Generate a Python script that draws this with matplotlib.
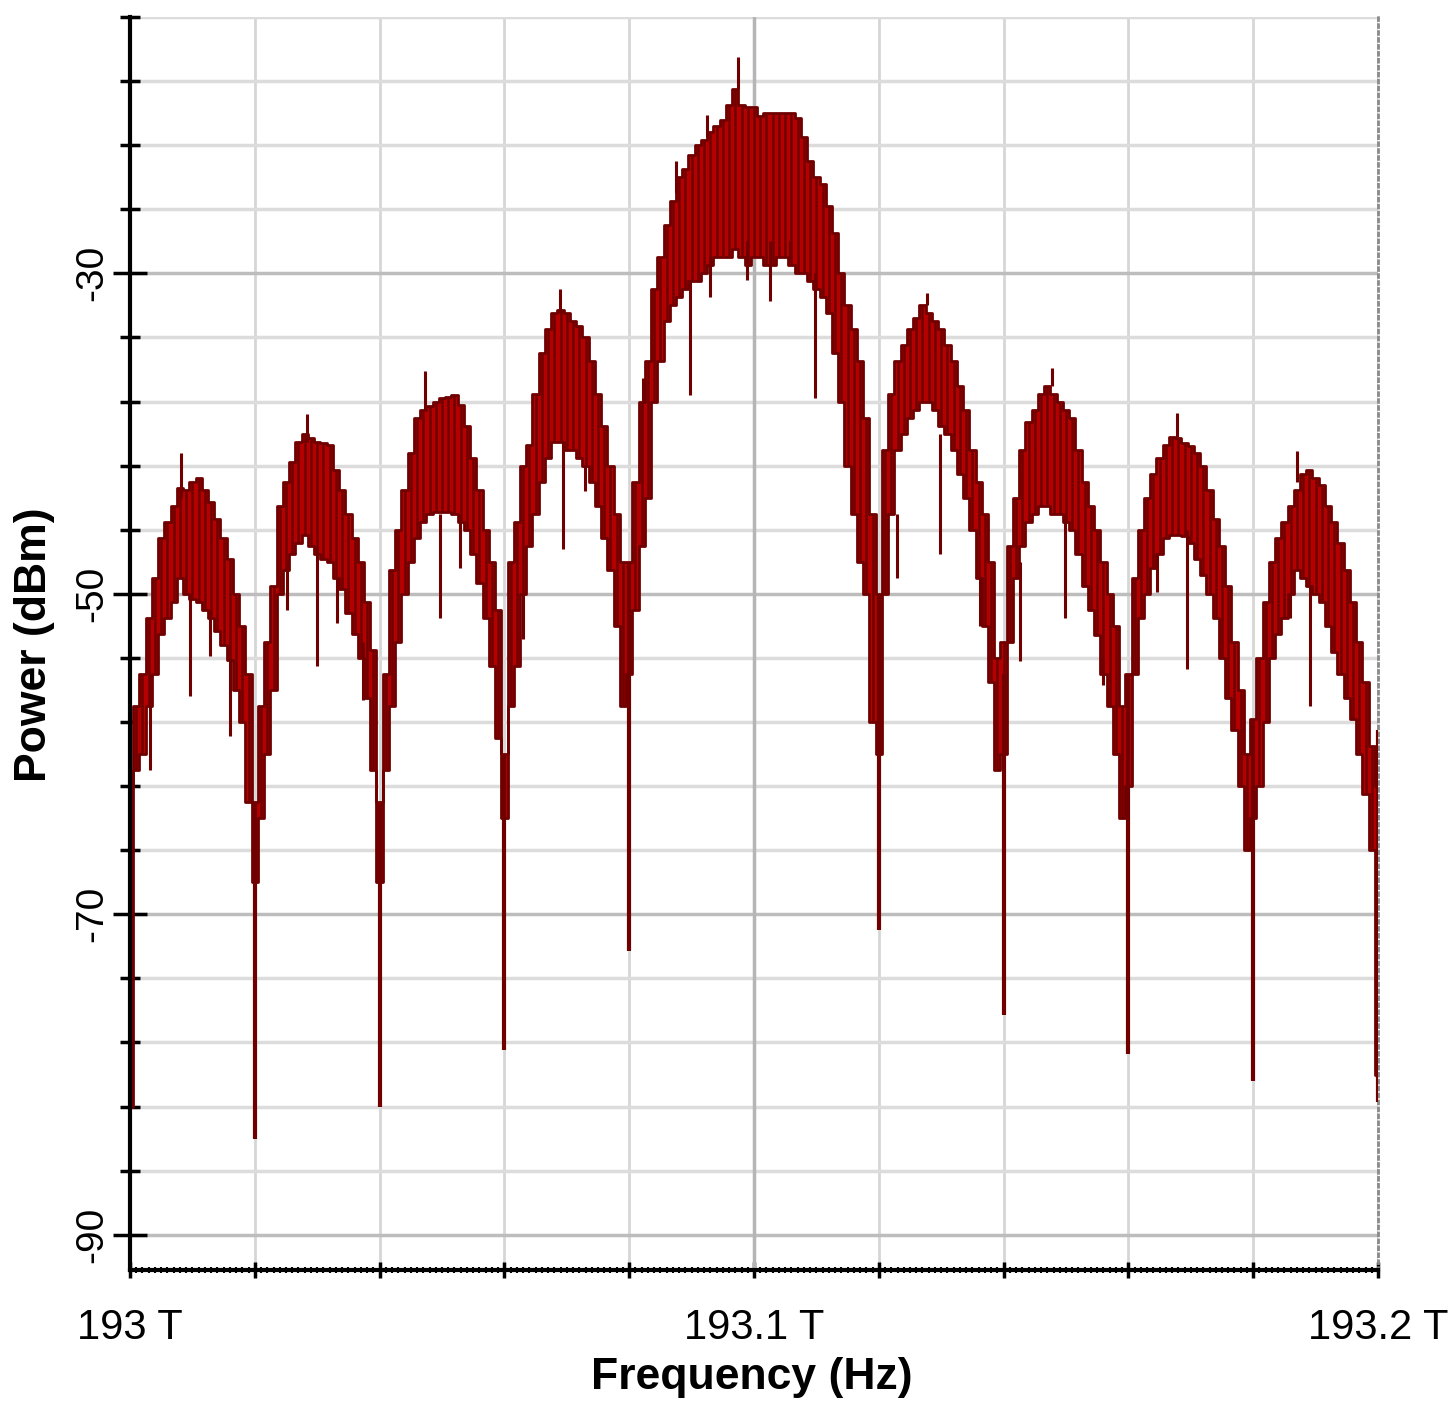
import numpy as np
import matplotlib
matplotlib.use("Agg")
from matplotlib import pyplot as plt
from matplotlib.ticker import FixedLocator, FuncFormatter

plt.rcParams['font.family'] = ['Liberation Sans', 'DejaVu Sans']
plt.rcParams['axes.unicode_minus'] = False

# spectrum samples every 1 GHz (upper / lower edge of the noisy trace, dBm)
freq = np.arange(201) * 0.001 + 193.0

hi = [-62, -57, -55, -51.5, -49, -46.5, -45.5, -44.5, -43.4, -43.5,
      -43, -42.8, -43.5, -44.3, -45.3, -46.5, -47.8, -50, -52, -55,
      -63, -57, -53, -49.5, -44.5, -43, -41.8, -40.5, -40, -40.3,
      -40.5, -40.6, -40.7, -42.3, -43.5, -45, -46.5, -48, -50.5, -53.5,
      -63, -55, -48.5, -46, -43.5, -41.2, -39, -38.5, -38.3, -38,
      -37.8, -37.7, -37.6, -38.2, -39.5, -41.5, -43.5, -46, -48, -51,
      -60, -48, -45.5, -42, -40.7, -37.5, -35, -33.5, -32.5, -32.3,
      -32.5, -33, -33.3, -34, -35.5, -37.5, -39.5, -42, -45, -48,
      -48, -43, -38, -35.5, -31, -29, -27, -25.5, -24, -23.5,
      -22.6, -22, -21.7, -21.2, -20.8, -20.4, -19.5, -18.5, -19.5, -19.6,
      -19.6, -20.2, -20, -20, -20, -20, -20, -20.3, -21.5, -23,
      -24, -24.4, -25.8, -27.5, -30, -32, -33.5, -35.5, -39, -45,
      -50, -41, -37.5, -35.5, -34.5, -33.5, -32.8, -32, -32.5, -33,
      -33.5, -34.5, -35.5, -37, -38.5, -41, -43, -45, -48, -54,
      -53, -47, -44, -41, -39.3, -38.5, -37.5, -37, -37.5, -38,
      -38.5, -39, -41, -43, -44.5, -46, -48, -50, -52, -57,
      -55, -49, -46, -44, -42.5, -41.5, -40.7, -40.2, -40.3, -40.6,
      -40.8, -41.2, -42, -43.5, -45.3, -47, -49.5, -53, -56, -60,
      -57.8, -54, -50.5, -48, -46.5, -45.5, -44.5, -43.5, -42.5, -42.3,
      -42.8, -43.2, -44.5, -45.5, -46.8, -48.5, -50.5, -53, -55.5, -59.5,
      -62]

lo = [-82, -61, -60, -57, -55, -52.5, -51.5, -50.5, -49, -50,
      -50.3, -50.5, -51, -51.5, -52.3, -53.2, -54.1, -56, -58, -63,
      -68, -64, -60, -56, -50, -48.5, -47.5, -46.8, -46.3, -47,
      -47.5, -47.8, -48, -49, -49.7, -51.2, -52.5, -54, -56.5, -61,
      -68, -61, -57, -53, -50, -48, -46.5, -45.5, -45, -44.9,
      -44.9, -44.9, -45, -45.5, -46, -47.5, -49.3, -51.5, -54.5, -59,
      -64, -57, -54.5, -50, -47, -45, -43, -41.5, -40.5, -40.5,
      -41, -41, -41.5, -42, -43, -44.5, -46.5, -48.5, -52, -57,
      -55, -51, -47, -44, -38, -35.5, -33, -32, -31.5, -31,
      -30.5, -30.5, -30, -29.5, -29, -29, -29, -28.5, -29, -29.5,
      -29, -29, -29.5, -29.5, -29, -29, -29.5, -30, -30, -30.5,
      -31, -31.5, -32.5, -35, -38, -42, -45, -48, -50, -58,
      -60, -50, -45, -41, -40, -39, -38.5, -38, -38, -38.5,
      -39.5, -40, -41, -42.5, -44, -46, -49, -52, -55.5, -61,
      -60, -53, -49, -47, -45.5, -45, -44.5, -44.5, -45, -45,
      -45.5, -46, -47.5, -49.5, -51, -52.6, -55, -57, -60, -64,
      -62, -55, -51.5, -50, -48.4, -47.5, -46.5, -46.3, -46.3, -46.4,
      -46.8, -47.8, -48.8, -50, -51.5, -54, -56.5, -58.5, -62, -66,
      -64, -62, -58, -54, -52.5, -51.5, -50, -48.5, -49, -49.5,
      -50, -50.5, -52, -53.6, -55, -56.5, -57.8, -60, -62.5, -66,
      -80]

# deep notches between the lobes: frequency, top, bottom
dip_f = [193.0, 193.02, 193.04, 193.06, 193.08, 193.12, 193.14, 193.16, 193.18, 193.2]
dip_top = [-62, -63, -63, -60, -48, -50, -55, -55, -58, -58.5]
dip_bot = [-82, -84, -82, -78.5, -72.3, -71, -76.3, -78.7, -80.4, -81.7]

# single downward spikes below the trace
down_f = [193.0032, 193.0096, 193.0128, 193.016, 193.0252, 193.03, 193.0332, 193.0373,
          193.0497, 193.0529, 193.063, 193.0694, 193.0729, 193.0897, 193.0929, 193.0989,
          193.1026, 193.1058, 193.1098, 193.1229, 193.1298, 193.1362, 193.1426, 193.1498,
          193.1559, 193.1646, 193.1694, 193.1859, 193.1891]
down_top = [-55, -50, -51, -54, -48, -47, -49, -53, -45, -45, -50, -40.5, -42, -30.5, -29,
            -28, -28, -28, -30, -45, -40, -49, -48, -45, -54, -47.5, -46, -50, -49.5]
down_bot = [-61, -56.4, -53.9, -58.9, -51, -54.5, -51.8, -56.6, -51.5, -48.4, -52.8, -47.2,
            -43.6, -37.6, -31.5, -30.4, -31.7, -29.2, -37.8, -49, -47.5, -52, -54.2, -51.5,
            -55.7, -49.9, -54.7, -51.5, -57]

# single upward spikes above the trace
up_f = [193.0082, 193.0284, 193.0473, 193.0689, 193.0822, 193.0875, 193.0925, 193.0974,
        193.1277, 193.1478, 193.1678, 193.187]
up_base = [-44, -40.5, -38.5, -32.5, -38, -25, -21.5, -18.5, -32, -37, -40.2, -43]
up_top = [-41.2, -38.8, -36.1, -31, -36.5, -23, -20.1, -16.5, -31.2, -35.9, -38.7, -41.1]

x_labels = {193.0: "193 T", 193.1: "193.1 T", 193.2: "193.2 T"}
y_major = [-90, -70, -50, -30]

fill_col = "#b40000"
dark_col = "#700000"

fig = plt.figure(figsize=(14.48, 14.03), dpi=100)
ax = fig.add_axes([130 / 1448, 1 - 1270 / 1403, 1248 / 1448, 1253 / 1403])

# blocky, stepped trace like the simulator's bar-style spectrum
ax.fill_between(freq, lo, hi, step="mid", color=fill_col, lw=0, zorder=3)
ax.plot(freq, hi, drawstyle="steps-mid", color=dark_col, lw=2, zorder=4)
ax.plot(freq, lo, drawstyle="steps-mid", color=dark_col, lw=2, zorder=4)
ax.vlines(freq, lo, hi, color=dark_col, lw=1.8, zorder=4)
ax.vlines(dip_f, dip_bot, dip_top, color=dark_col, lw=3, zorder=4)
ax.vlines(down_f, down_bot, down_top, color=dark_col, lw=2.2, zorder=4)
ax.vlines(up_f, up_base, up_top, color=dark_col, lw=2.2, zorder=4)

ax.set_xlim(193.0, 193.2)
ax.set_ylim(-92.2, -14)

ax.xaxis.set_major_locator(FixedLocator(np.round(np.arange(11) * 0.02 + 193.0, 3)))
ax.xaxis.set_minor_locator(FixedLocator(np.arange(201) * 0.001 + 193.0))
ax.xaxis.set_major_formatter(FuncFormatter(lambda v, p: x_labels.get(round(v, 3), "")))
ax.yaxis.set_major_locator(FixedLocator(y_major))
ax.yaxis.set_minor_locator(FixedLocator(np.arange(-90, -13, 4)))
ax.yaxis.set_major_formatter(FuncFormatter(lambda v, p: "%d" % v))

ax.set_axisbelow(True)
ax.grid(which="major", axis="x", color="#d6d6d6", lw=2)
ax.grid(which="minor", axis="y", color="#dcdcdc", lw=2.5)
ax.grid(which="major", axis="y", color="#bdbdbd", lw=2.5)
ax.axvline(193.1, color="#b5b5b5", lw=2.5, zorder=1)

ax.tick_params(axis="y", which="major", direction="inout", length=24, width=2.5,
               labelsize=28, pad=2, labelrotation=90)
ax.tick_params(axis="y", which="minor", direction="inout", length=14, width=2.5)
ax.tick_params(axis="x", which="major", direction="inout", length=11, width=2.5,
               labelsize=30, pad=22)
ax.tick_params(axis="x", which="minor", direction="inout", length=5, width=1.5)
for t in ax.get_yticklabels():
    t.set_va("center")

ax.spines["top"].set_visible(False)
ax.spines["left"].set_linewidth(3)
ax.spines["bottom"].set_linewidth(3)
ax.spines["right"].set_linestyle((0, (1, 1.5)))
ax.spines["right"].set_color("#8a8a8a")
ax.spines["right"].set_linewidth(2)
ax.spines["left"].set_zorder(5)
ax.spines["bottom"].set_zorder(5)

fig.text(35 / 1448, 1 - 645 / 1403, "Power (dBm)", rotation=90, fontsize=32,
         fontweight="bold", ha="center", va="center")
fig.text(752 / 1448, 1 - 1378 / 1403, "Frequency (Hz)", fontsize=32,
         fontweight="bold", ha="center", va="center")

fig.savefig("out.png", dpi=100)
